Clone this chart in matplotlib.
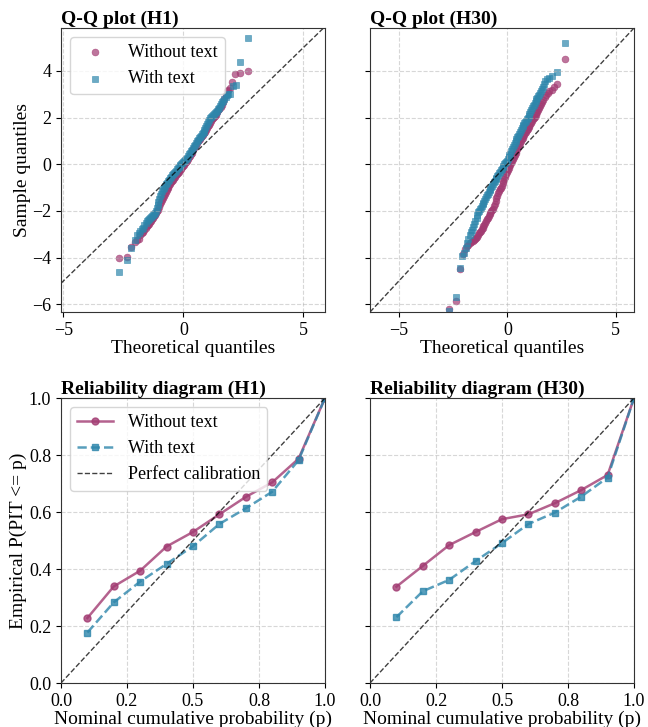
import matplotlib
matplotlib.use("Agg")
import matplotlib.pyplot as plt
from matplotlib.ticker import FormatStrFormatter

# Q-Q data (theoretical quantile, sample quantile)
qq_h1_without_x = [-2.70, -2.36, -2.17, -2.03, -1.94, -1.86, -1.80, -1.74, -1.68, -1.62, -1.57, -1.52, -1.47,
                   -1.42, -1.38, -1.34, -1.30, -1.26, -1.22, -1.18, -1.14, -1.10, -1.06, -1.02, -0.98, -0.94,
                   -0.90, -0.86, -0.82, -0.78, -0.74, -0.70, -0.66, -0.62, -0.58, -0.54, -0.50, -0.46, -0.42,
                   -0.38, -0.34, -0.30, -0.26, -0.22, -0.18, -0.14, -0.10, -0.06, -0.02, 0.02, 0.06, 0.10,
                   0.14, 0.18, 0.22, 0.26, 0.30, 0.34, 0.38, 0.42, 0.46, 0.50, 0.54, 0.58, 0.62, 0.66, 0.70,
                   0.74, 0.78, 0.82, 0.86, 0.90, 0.94, 0.98, 1.02, 1.06, 1.10, 1.14, 1.18, 1.22, 1.26, 1.30,
                   1.34, 1.38, 1.42, 1.46, 1.50, 1.55, 1.60, 1.65, 1.70, 1.76, 1.82, 1.88, 1.95, 2.03, 2.17,
                   2.36, 2.70]
qq_h1_without_y = [-4.02, -3.97, -3.56, -3.33, -3.24, -3.22, -3.05, -2.95, -2.88, -2.80, -2.73, -2.66, -2.60,
                   -2.54, -2.48, -2.42, -2.36, -2.28, -2.22, -2.16, -2.09, -2.02, -1.94, -1.84, -1.72, -1.62,
                   -1.52, -1.44, -1.36, -1.28, -1.19, -1.09, -1.02, -0.96, -0.89, -0.83, -0.77, -0.71, -0.66,
                   -0.60, -0.54, -0.48, -0.42, -0.37, -0.31, -0.25, -0.19, -0.13, -0.08, -0.02, 0.04, 0.10,
                   0.16, 0.23, 0.30, 0.37, 0.43, 0.50, 0.57, 0.64, 0.71, 0.78, 0.84, 0.91, 0.98, 1.04, 1.09,
                   1.15, 1.21, 1.27, 1.33, 1.40, 1.46, 1.54, 1.62, 1.70, 1.78, 1.85, 1.92, 1.98, 2.03, 2.08,
                   2.13, 2.18, 2.24, 2.31, 2.38, 2.46, 2.56, 2.66, 2.80, 2.97, 3.12, 3.20, 3.26, 3.51, 3.87,
                   3.91, 3.98]
qq_h1_with_x = [-2.70, -2.36, -2.17, -2.03, -1.94, -1.86, -1.80, -1.74, -1.68, -1.62, -1.57, -1.52, -1.47,
                -1.42, -1.38, -1.34, -1.30, -1.26, -1.22, -1.18, -1.14, -1.10, -1.07, -1.04, -1.00, -0.96,
                -0.92, -0.88, -0.84, -0.80, -0.76, -0.72, -0.68, -0.64, -0.60, -0.56, -0.52, -0.48, -0.44,
                -0.40, -0.36, -0.32, -0.28, -0.24, -0.20, -0.16, -0.12, -0.08, -0.04, 0.00, 0.04, 0.08,
                0.12, 0.16, 0.20, 0.24, 0.28, 0.32, 0.36, 0.40, 0.44, 0.48, 0.52, 0.56, 0.60, 0.64, 0.68,
                0.72, 0.76, 0.80, 0.84, 0.88, 0.92, 0.96, 1.00, 1.04, 1.08, 1.12, 1.16, 1.20, 1.24, 1.28,
                1.32, 1.36, 1.40, 1.44, 1.48, 1.52, 1.56, 1.60, 1.65, 1.70, 1.76, 1.82, 1.88, 1.95, 2.06,
                2.20, 2.36, 2.70]
qq_h1_with_y = [-4.62, -4.12, -3.57, -3.23, -3.05, -2.93, -2.84, -2.78, -2.72, -2.62, -2.52, -2.45, -2.40,
                -2.35, -2.30, -2.25, -2.20, -2.16, -2.12, -2.08, -2.00, -1.88, -1.76, -1.62, -1.50, -1.38,
                -1.26, -1.16, -1.08, -1.00, -0.93, -0.86, -0.79, -0.72, -0.66, -0.60, -0.54, -0.48, -0.42,
                -0.37, -0.32, -0.27, -0.22, -0.17, -0.13, -0.08, -0.04, 0.00, 0.04, 0.08, 0.13, 0.18,
                0.23, 0.29, 0.35, 0.42, 0.48, 0.55, 0.62, 0.70, 0.77, 0.84, 0.91, 0.98, 1.05, 1.11, 1.17,
                1.23, 1.29, 1.34, 1.40, 1.47, 1.54, 1.62, 1.71, 1.80, 1.89, 1.97, 2.04, 2.09, 2.13, 2.17,
                2.21, 2.25, 2.29, 2.35, 2.42, 2.50, 2.58, 2.65, 2.72, 2.78, 2.88, 2.97, 3.00, 3.02, 3.34,
                3.40, 4.40, 5.39]

qq_h30_without_x = [-2.69, -2.38, -2.19, -2.04, -1.94, -1.86, -1.79, -1.72, -1.66, -1.60, -1.54, -1.48, -1.43,
                    -1.38, -1.34, -1.30, -1.26, -1.22, -1.18, -1.14, -1.10, -1.06, -1.02, -0.98, -0.94, -0.90,
                    -0.86, -0.82, -0.78, -0.74, -0.70, -0.66, -0.62, -0.58, -0.54, -0.50, -0.46, -0.42, -0.38,
                    -0.34, -0.30, -0.26, -0.22, -0.18, -0.14, -0.10, -0.06, -0.02, 0.02, 0.06, 0.10, 0.14,
                    0.18, 0.22, 0.26, 0.30, 0.34, 0.38, 0.42, 0.46, 0.50, 0.54, 0.58, 0.62, 0.66, 0.70, 0.74,
                    0.78, 0.82, 0.86, 0.90, 0.94, 0.98, 1.02, 1.06, 1.10, 1.14, 1.18, 1.22, 1.26, 1.30, 1.34,
                    1.38, 1.42, 1.46, 1.50, 1.55, 1.60, 1.66, 1.72, 1.78, 1.86, 1.94, 2.04, 2.15, 2.30, 2.64]
qq_h30_without_y = [-6.18, -5.84, -4.47, -3.83, -3.63, -3.52, -3.45, -3.39, -3.34, -3.29, -3.24, -3.19, -3.15,
                    -3.10, -3.02, -2.96, -2.90, -2.84, -2.78, -2.72, -2.66, -2.59, -2.51, -2.43, -2.36, -2.29,
                    -2.22, -2.15, -2.08, -2.02, -1.96, -1.90, -1.80, -1.68, -1.57, -1.46, -1.35, -1.25, -1.16,
                    -1.08, -1.00, -0.91, -0.82, -0.73, -0.63, -0.53, -0.43, -0.34, -0.25, -0.16, -0.08, -0.01,
                    0.05, 0.13, 0.22, 0.31, 0.39, 0.48, 0.57, 0.65, 0.74, 0.83, 0.91, 1.00, 1.07, 1.13, 1.20,
                    1.27, 1.33, 1.40, 1.46, 1.53, 1.60, 1.66, 1.73, 1.79, 1.86, 1.92, 1.98, 2.04, 2.11, 2.18,
                    2.26, 2.34, 2.42, 2.49, 2.58, 2.66, 2.77, 2.88, 2.98, 3.06, 3.13, 3.20, 3.31, 3.44, 4.52]
qq_h30_with_x = [-2.69, -2.38, -2.19, -2.07, -1.98, -1.91, -1.85, -1.79, -1.73, -1.67, -1.62, -1.57, -1.52,
                 -1.47, -1.42, -1.38, -1.34, -1.30, -1.26, -1.22, -1.18, -1.14, -1.10, -1.06, -1.02, -0.98,
                 -0.94, -0.90, -0.86, -0.82, -0.78, -0.74, -0.70, -0.66, -0.62, -0.58, -0.54, -0.50, -0.46,
                 -0.42, -0.38, -0.34, -0.30, -0.26, -0.22, -0.18, -0.14, -0.10, -0.06, -0.02, 0.02, 0.06,
                 0.10, 0.14, 0.18, 0.22, 0.26, 0.30, 0.34, 0.38, 0.42, 0.46, 0.50, 0.54, 0.58, 0.62, 0.66,
                 0.70, 0.74, 0.78, 0.82, 0.86, 0.90, 0.94, 0.98, 1.02, 1.06, 1.10, 1.14, 1.18, 1.22, 1.26,
                 1.30, 1.34, 1.38, 1.42, 1.46, 1.50, 1.55, 1.60, 1.65, 1.70, 1.75, 1.82, 1.92, 2.07, 2.30,
                 2.64]
qq_h30_with_y = [-6.27, -5.69, -4.43, -3.94, -3.78, -3.58, -3.38, -3.18, -3.02, -2.90, -2.80, -2.68, -2.55,
                 -2.42, -2.28, -2.16, -2.06, -1.98, -1.92, -1.86, -1.78, -1.71, -1.64, -1.56, -1.48, -1.40,
                 -1.33, -1.26, -1.19, -1.12, -1.05, -0.98, -0.91, -0.84, -0.77, -0.70, -0.63, -0.57, -0.51,
                 -0.45, -0.38, -0.32, -0.25, -0.19, -0.12, -0.06, 0.00, 0.04, 0.09, 0.14, 0.22, 0.30,
                 0.38, 0.46, 0.55, 0.64, 0.73, 0.82, 0.91, 1.00, 1.08, 1.16, 1.23, 1.31, 1.39, 1.47, 1.55,
                 1.62, 1.69, 1.75, 1.81, 1.87, 1.93, 1.99, 2.07, 2.15, 2.24, 2.32, 2.40, 2.48, 2.55, 2.62,
                 2.70, 2.78, 2.85, 2.92, 2.99, 3.06, 3.14, 3.22, 3.32, 3.45, 3.56, 3.64, 3.71, 3.80, 3.96,
                 5.20]

# reliability data
nominal_p = [0.1, 0.2, 0.3, 0.4, 0.5, 0.6, 0.7, 0.8, 0.9, 1.0]
rel_h1_without = [0.228, 0.339, 0.394, 0.479, 0.530, 0.592, 0.653, 0.704, 0.787, 1.0]
rel_h1_with = [0.177, 0.283, 0.356, 0.418, 0.480, 0.558, 0.613, 0.671, 0.782, 1.0]
rel_h30_without = [0.338, 0.411, 0.484, 0.530, 0.575, 0.592, 0.631, 0.677, 0.730, 1.0]
rel_h30_with = [0.231, 0.322, 0.362, 0.428, 0.491, 0.558, 0.598, 0.654, 0.721, 1.0]

c_without = '#A23B72'
c_with = '#2E86AB'

plt.rcParams['font.family'] = ['Liberation Serif', 'DejaVu Serif']
plt.rcParams['font.size'] = 13

fig = plt.figure(figsize=(6.48, 7.27), dpi=100)
ax1 = fig.add_axes([0.0941, 0.5708, 0.4074, 0.3907])
ax2 = fig.add_axes([0.5710, 0.5708, 0.4074, 0.3907], sharey=ax1)
ax3 = fig.add_axes([0.0941, 0.0605, 0.4074, 0.3920])
ax4 = fig.add_axes([0.5710, 0.0605, 0.4074, 0.3920], sharey=ax3)

# Q-Q plots
qq = [(ax1, 'H1', qq_h1_without_x, qq_h1_without_y, qq_h1_with_x, qq_h1_with_y, (-5.1, 5.9)),
      (ax2, 'H30', qq_h30_without_x, qq_h30_without_y, qq_h30_with_x, qq_h30_with_y, (-6.33, 5.84))]
for ax, h, wx, wy, tx, ty, lims in qq:
    ax.scatter(wx, wy, s=24, marker='o', color=c_without, alpha=0.7, label='Without text',
               edgecolors=c_without, linewidths=0.5)
    ax.scatter(tx, ty, s=24, marker='s', color=c_with, alpha=0.7, label='With text',
               edgecolors=c_with, linewidths=0.5)
    ax.plot(lims, lims, 'k--', lw=1, alpha=0.75)
    ax.set_xlim(lims)
    ax.set_title(f'Q-Q plot ({h})', loc='left', fontweight='bold', fontsize=14, pad=3)
    ax.set_xlabel('Theoretical quantiles', fontsize=14, labelpad=1)
    ax.grid(True, linestyle='--', alpha=0.5)
    ax.set_xticks([-5, 0, 5])
ax1.set_ylim(-6.33, 5.84)
ax1.set_yticks([-6, -4, -2, 0, 2, 4])
ax1.set_ylabel('Sample quantiles', fontsize=14, labelpad=1)
ax1.legend(loc='upper left', fontsize=13)
ax2.tick_params(labelleft=False)

# reliability diagrams
rel = [(ax3, 'H1', rel_h1_without, rel_h1_with), (ax4, 'H30', rel_h30_without, rel_h30_with)]
for ax, h, rw, rt in rel:
    ax.plot(nominal_p, rw, '-o', color=c_without, lw=1.8, ms=5, alpha=0.8, label='Without text')
    ax.plot(nominal_p, rt, '--s', color=c_with, lw=1.8, ms=5, alpha=0.8, label='With text')
    ax.plot([0, 1], [0, 1], 'k--', lw=1, alpha=0.75, label='Perfect calibration')
    ax.set_xlim(0, 1)
    ax.set_ylim(0, 1)
    ax.set_xticks([0, 0.25, 0.5, 0.75, 1.0])
    ax.xaxis.set_major_formatter(FormatStrFormatter('%.1f'))
    ax.set_title(f'Reliability diagram ({h})', loc='left', fontweight='bold', fontsize=14, pad=3)
    ax.set_xlabel('Nominal cumulative probability (p)', fontsize=14, labelpad=1)
    ax.grid(True, linestyle='--', alpha=0.5)
ax3.yaxis.set_major_formatter(FormatStrFormatter('%.1f'))
ax3.set_ylabel('Empirical P(PIT <= p)', fontsize=14, labelpad=1)
ax3.legend(loc='upper left', fontsize=13)
ax4.tick_params(labelleft=False)

for ax in (ax1, ax2, ax3, ax4):
    for s in ax.spines.values():
        s.set_color('#333333')

fig.savefig('out.png', dpi=100)
